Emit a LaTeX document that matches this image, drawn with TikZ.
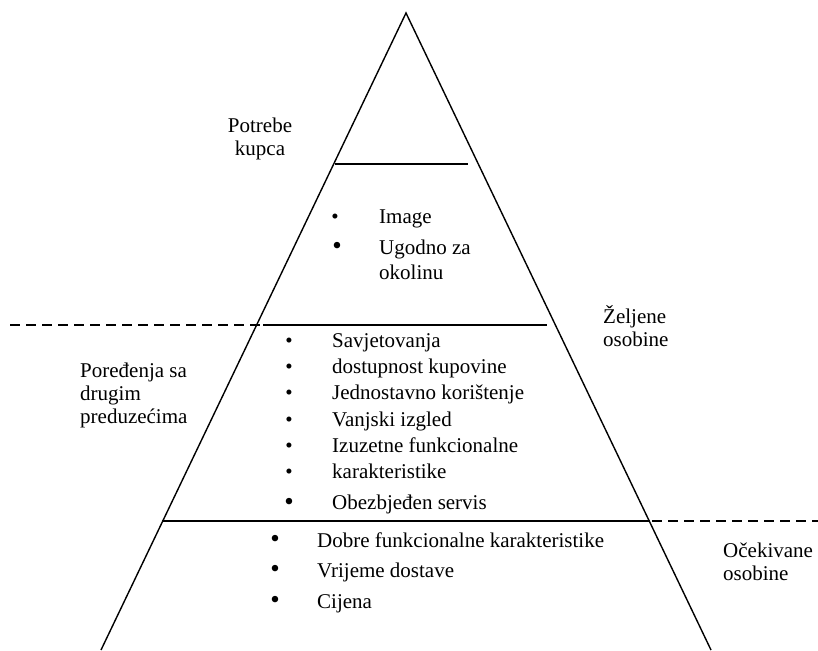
\documentclass[tikz,border=0pt]{standalone}
\usepackage{fontspec}
\setmainfont{Liberation Serif}
\usetikzlibrary{positioning}
\tikzset{side/.style={line width=1.4pt,line join=miter},level/.style={line width=1.4pt},guide/.style={line width=1.2pt,dash pattern=on 10pt off 6pt},sidetext/.style={inner sep=0pt,align=left,font=\fontsize{21}{23}\selectfont},itemtext/.style={inner sep=0pt,anchor=base west,align=left,font=\fontsize{21}{25}\selectfont},dot/.style={inner sep=0pt,anchor=base,font=\fontsize{21}{21}\selectfont},bigdot/.style={inner sep=0pt,anchor=base,font=\fontsize{27}{27}\selectfont}}

\begin{document}
\begin{tikzpicture}[x=1pt,y=-1pt]
\useasboundingbox (0,0) rectangle (818,650);
\coordinate (apex) at (406,13);
\coordinate (bl) at (101,650);
\coordinate (br) at (711,650);
\draw[side] (bl)--(apex)--(br);
% levels
\draw[level] (335,164)--(468,164);
\draw[level] (263,325)--(547,325);
\draw[guide] (10,325)--(260,325);
\draw[level] (162,521)--(650,521);
\draw[guide] (652,521)--(818,521);
% side labels (base = last line)
\node[sidetext,align=center,anchor=base] (needs) at (260,155) {Potrebe\\kupca};
\node[sidetext,anchor=base west] (wanted) at (603,346) {Željene\\osobine};
\node[sidetext,anchor=base west] (compare) at (80,423) {Poređenja sa\\drugim\\preduzećima};
\node[sidetext,anchor=base west] (expected) at (723,580) {Očekivane\\osobine};
% top level
\node[dot] (td1) at (335,223) {\textbullet};
\node[itemtext] (tt1) at (379,223) {Image};
\node[bigdot] (td2) at (337,254) {\textbullet};
\node[itemtext] (tt2) at (379,279) {Ugodno za\\okolinu};
% middle level
\foreach \y/\t [count=\i] in {347/Savjetovanja,373/dostupnost kupovine,399/Jednostavno korištenje,426/Vanjski izgled,452/Izuzetne funkcionalne,478/karakteristike}{
  \node[dot] (md\i) at (289,\y) {\textbullet};
  \node[itemtext] (mt\i) at (332,\y) {\t};
}
\node[bigdot] (md7) at (289,510) {\textbullet};
\node[itemtext] (mt7) at (332,509) {Obezbjeđen servis};
% bottom level
\foreach \y/\t [count=\i] in {547/Dobre funkcionalne karakteristike,577/Vrijeme dostave,608/Cijena}{
  \node[bigdot] (bd\i) at (275,\y) {\textbullet};
  \node[itemtext] (bt\i) at (317,\y) {\t};
}
\end{tikzpicture}
\end{document}
